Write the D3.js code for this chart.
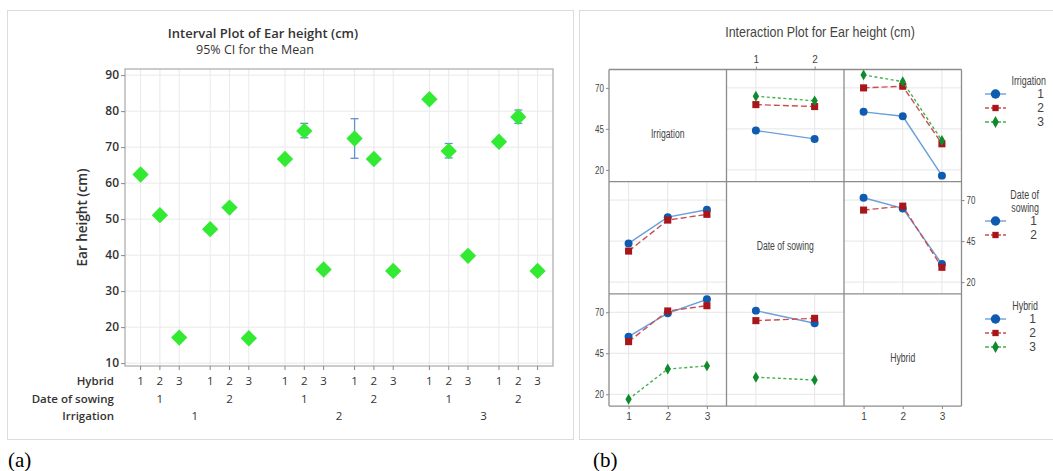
<!DOCTYPE html>
<meta charset="utf-8">
<style>
body { margin: 0; background: #fff; }
svg { display: block; }
.lab { font-family: "Open Sans", "Noto Sans", sans-serif; fill: #333; }
.narrow { font-family: "Liberation Sans", "Roboto", sans-serif; fill: #444; }
</style>
<body>
<script src="https://d3js.org/d3.v7.min.js"></script>
<script>

var width = 1053, height = 471;

// ---- interval plot data (order: irrigation > date of sowing > hybrid)
var irrigation = ["1", "2", "3"];
var sowing = ["1", "2"];
var hybrid = ["1", "2", "3"];
var meanHeight = [62.4, 51.1, 17.1, 47.2, 53.2, 16.9,
                  66.7, 74.5, 36.0, 72.4, 66.7, 35.6,
                  83.3, 68.9, 39.8, 71.5, 78.4, 35.6];
var ciLow  = [61.8, 50.5, 16.5, 46.6, 52.5, 16.3,
              66.0, 72.6, 35.4, 66.9, 66.0, 35.0,
              82.7, 67.0, 39.2, 70.9, 76.6, 35.0];
var ciHigh = [63.0, 51.7, 17.7, 47.8, 53.9, 17.5,
              67.4, 76.6, 36.6, 77.9, 67.4, 36.2,
              83.9, 71.0, 40.4, 72.1, 80.3, 36.2];
var yTicks = [10, 20, 30, 40, 50, 60, 70, 80, 90];

// ---- interaction plot data: [trace level][x level]
var factors = ["Irrigation", "Date of sowing", "Hybrid"];
var levels = [irrigation, sowing, hybrid];
var irrBySowing = [[44.0, 38.9], [59.8, 58.6], [64.9, 62.1]];
var irrByHybrid = [[55.4, 52.7, 16.5], [70.0, 71.0, 35.9], [77.9, 73.8, 37.9]];
var sowByIrr = [[43.6, 59.6, 64.1], [38.9, 57.8, 61.3]];
var sowByHybrid = [[71.4, 64.9, 31.0], [63.9, 66.3, 29.0]];
var hybByIrr = [[55.1, 69.4, 77.9], [52.1, 70.8, 74.0], [17.0, 35.4, 37.3]];
var hybBySowing = [[71.0, 63.3], [64.9, 66.3], [30.4, 28.7]];
var cellData = [[null, irrBySowing, irrByHybrid],
                [sowByIrr, null, sowByHybrid],
                [hybByIrr, hybBySowing, null]];
var intTicks = [20, 45, 70];

var svg = d3.select("body").append("svg")
    .attr("width", width)
    .attr("height", height);

// squeeze text horizontally, the interaction plot uses a narrow face
function condense(sel, f) {
  sel.each(function() {
    var w = this.getComputedTextLength();
    d3.select(this).attr("textLength", w * f).attr("lengthAdjust", "spacingAndGlyphs");
  });
}

// panel frames
svg.append("rect").attr("x", 7.5).attr("y", 10.5).attr("width", 566).attr("height", 429)
  .attr("fill", "none").attr("stroke", "#dcdcdc");
svg.append("rect").attr("x", 579.5).attr("y", 10.5).attr("width", 480).attr("height", 429)
  .attr("fill", "none").attr("stroke", "#dcdcdc");

// =================== (a) interval plot
var px0 = 125, px1 = 553, py0 = 69, py1 = 366;

var y = d3.scaleLinear().domain([9.2, 91.7]).range([py1, py0]);
var xIrr = d3.scaleBand().domain(irrigation).range([122.5, 555.7]);
var xSow = d3.scaleBand().domain(sowing).range([0, xIrr.bandwidth()])
    .paddingInner(0.445).paddingOuter(0.26);
var xHyb = d3.scalePoint().domain(hybrid).range([0, xSow.bandwidth()]);

var pts = [];
irrigation.forEach(function(ir) {
  sowing.forEach(function(s) {
    hybrid.forEach(function(h) {
      var i = pts.length;
      pts.push({ir: ir, s: s, h: h, m: meanHeight[i], lo: ciLow[i], hi: ciHigh[i],
        x: xIrr(ir) + xSow(s) + xHyb(h)});
    });
  });
});

var ga = svg.append("g");

ga.selectAll("line.hg").data(yTicks).enter().append("line")
  .attr("x1", px0).attr("x2", px1)
  .attr("y1", function(d) { return y(d); }).attr("y2", function(d) { return y(d); })
  .attr("stroke", "#e9e9e9");
ga.selectAll("line.vg").data(pts).enter().append("line")
  .attr("x1", function(d) { return d.x; }).attr("x2", function(d) { return d.x; })
  .attr("y1", py0).attr("y2", py1)
  .attr("stroke", "#e9e9e9");

ga.append("rect").attr("x", px0).attr("y", py0).attr("width", px1 - px0).attr("height", py1 - py0)
  .attr("fill", "none").attr("stroke", "#a9a9a9").attr("stroke-width", 1.2);

var yAxis = ga.append("g").attr("transform", "translate(" + px0 + ",0)")
  .call(d3.axisLeft(y).tickValues(yTicks).tickSize(4).tickPadding(2));
yAxis.select(".domain").remove();
yAxis.selectAll("line").attr("stroke", "#888");
yAxis.selectAll("text").attr("class", "lab").style("font-size", "12px")
  .style("font-weight", "600").attr("fill", "#333");

ga.selectAll("line.xt").data(pts).enter().append("line")
  .attr("x1", function(d) { return d.x; }).attr("x2", function(d) { return d.x; })
  .attr("y1", py1).attr("y2", py1 + 4).attr("stroke", "#888");

ga.append("text").attr("class", "lab")
  .attr("transform", "translate(87," + ((py0 + py1) / 2) + ") rotate(-90)")
  .attr("text-anchor", "middle").style("font-size", "13.5px").style("font-weight", "600")
  .attr("fill", "#444").text("Ear height (cm)");

// error bars
var eb = ga.selectAll("g.eb").data(pts).enter().append("g").attr("stroke", "#5b93d3").attr("stroke-width", 1.3);
eb.append("line").attr("x1", function(d) { return d.x; }).attr("x2", function(d) { return d.x; })
  .attr("y1", function(d) { return y(d.lo); }).attr("y2", function(d) { return y(d.hi); });
eb.append("line").attr("x1", function(d) { return d.x - 4; }).attr("x2", function(d) { return d.x + 4; })
  .attr("y1", function(d) { return y(d.lo); }).attr("y2", function(d) { return y(d.lo); });
eb.append("line").attr("x1", function(d) { return d.x - 4; }).attr("x2", function(d) { return d.x + 4; })
  .attr("y1", function(d) { return y(d.hi); }).attr("y2", function(d) { return y(d.hi); });

ga.selectAll("path.mean").data(pts).enter().append("path")
  .attr("d", d3.symbol().type(d3.symbolDiamond2).size(170))
  .attr("transform", function(d) { return "translate(" + d.x + "," + y(d.m) + ")"; })
  .attr("fill", "#33ea33");

// category rows under the axis
var rowY = [385, 403, 420];
ga.selectAll("text.hyb").data(pts).enter().append("text").attr("class", "lab")
  .attr("x", function(d) { return d.x; }).attr("y", rowY[0]).attr("text-anchor", "middle")
  .style("font-size", "11.5px").text(function(d) { return d.h; });
var sowCells = [];
irrigation.forEach(function(ir) { sowing.forEach(function(s) { sowCells.push({ir: ir, s: s}); }); });
ga.selectAll("text.sow").data(sowCells).enter().append("text").attr("class", "lab")
  .attr("x", function(d) { return xIrr(d.ir) + xSow(d.s) + xSow.bandwidth() / 2; })
  .attr("y", rowY[1]).attr("text-anchor", "middle").style("font-size", "11.5px")
  .text(function(d) { return d.s; });
ga.selectAll("text.irr").data(irrigation).enter().append("text").attr("class", "lab")
  .attr("x", function(d) { return xIrr(d) + xIrr.bandwidth() / 2; })
  .attr("y", rowY[2]).attr("text-anchor", "middle").style("font-size", "11.5px")
  .text(function(d) { return d; });
ga.selectAll("text.rowname").data(["Hybrid", "Date of sowing", "Irrigation"]).enter().append("text")
  .attr("class", "lab").attr("x", 114).attr("y", function(d, i) { return rowY[i]; })
  .attr("text-anchor", "end").style("font-size", "11.5px").style("font-weight", "600")
  .text(function(d) { return d; });

ga.append("text").attr("class", "lab").attr("x", 263).attr("y", 38).attr("text-anchor", "middle")
  .style("font-size", "13px").style("font-weight", "600").attr("fill", "#3b3b3b")
  .text("Interval Plot of Ear height (cm)");
ga.append("text").attr("class", "lab").attr("x", 255).attr("y", 54).attr("text-anchor", "middle")
  .style("font-size", "12.5px").attr("fill", "#555").text("95% CI for the Mean");

// =================== (b) interaction plot matrix
var mx0 = 609, my0 = 69.5, cw = 117.5, ch = 112.2;
var yi = d3.scaleLinear().domain([12.8, 81.2]).range([ch, 0]);
var xScales = levels.map(function(lv) {
  return d3.scalePoint().domain(lv).range([0, cw]).padding(0.5);
});

var lineCol = ["#6a9fdc", "#cc4f4f", "#44b04c"];
var markCol = ["#0f5bb0", "#a8161b", "#0f8a2c"];
var dashes = [null, "6,3", "3,2.5"];
var symbols = [d3.symbolCircle, d3.symbolSquare, d3.symbolDiamond];
var symSize = [50, 50, 34];

var gb = svg.append("g");

for (var r = 0; r < 3; r++) {
  for (var c = 0; c < 3; c++) {
    var cell = gb.append("g").attr("transform", "translate(" + (mx0 + c * cw) + "," + (my0 + r * ch) + ")");
    if (r === c) {
      cell.append("text").attr("class", "narrow diag").attr("x", cw / 2).attr("y", ch / 2 + 12)
        .attr("text-anchor", "middle").style("font-size", "12px").text(factors[r]);
      continue;
    }
    var xs = xScales[c];
    cell.selectAll("line.hg").data(intTicks).enter().append("line")
      .attr("x1", 0).attr("x2", cw).attr("y1", function(d) { return yi(d); }).attr("y2", function(d) { return yi(d); })
      .attr("stroke", "#e6e6e6");
    cell.selectAll("line.vg").data(levels[c]).enter().append("line")
      .attr("x1", function(d) { return xs(d); }).attr("x2", function(d) { return xs(d); })
      .attr("y1", 0).attr("y2", ch).attr("stroke", "#e6e6e6");
    var series = cellData[r][c];
    series.forEach(function(vals, k) {
      var ptsK = vals.map(function(v, j) { return [xs(levels[c][j]), yi(v)]; });
      cell.append("path").attr("d", d3.line()(ptsK)).attr("fill", "none")
        .attr("stroke", lineCol[k]).attr("stroke-width", 1.4)
        .attr("stroke-dasharray", dashes[k]);
      cell.selectAll("path.m" + k).data(ptsK).enter().append("path")
        .attr("d", d3.symbol().type(symbols[k]).size(symSize[k]))
        .attr("transform", function(p) { return "translate(" + p[0] + "," + p[1] + ")"; })
        .attr("fill", markCol[k]);
    });
  }
}
condense(gb.selectAll("text.diag"), 0.72);

// cell frame
for (var i = 0; i <= 3; i++) {
  gb.append("line").attr("x1", mx0 + i * cw).attr("x2", mx0 + i * cw).attr("y1", my0).attr("y2", my0 + 3 * ch)
    .attr("stroke", "#8c8c8c").attr("stroke-width", 1.3);
  gb.append("line").attr("y1", my0 + i * ch).attr("y2", my0 + i * ch).attr("x1", mx0).attr("x2", mx0 + 3 * cw)
    .attr("stroke", "#8c8c8c").attr("stroke-width", 1.3);
}

// y axes: row 0 left, row 1 right, row 2 left
[0, 1, 2].forEach(function(r) {
  var left = r !== 1;
  var ax = left ? d3.axisLeft(yi) : d3.axisRight(yi);
  var g = gb.append("g").attr("transform", "translate(" + (left ? mx0 : mx0 + 3 * cw) + "," + (my0 + r * ch) + ")")
    .call(ax.tickValues(intTicks).tickSize(3).tickPadding(2));
  g.select(".domain").remove();
  g.selectAll("line").attr("stroke", "#888");
  g.selectAll("text").attr("class", "narrow").style("font-size", "10px");
  condense(g.selectAll("text"), 0.8);
});
// x axes: col 0 bottom, col 1 top, col 2 bottom
[0, 1, 2].forEach(function(c) {
  var top = c === 1;
  var ax = top ? d3.axisTop(xScales[c]) : d3.axisBottom(xScales[c]);
  var g = gb.append("g").attr("transform", "translate(" + (mx0 + c * cw) + "," + (top ? my0 : my0 + 3 * ch) + ")")
    .call(ax.tickSize(3).tickPadding(4));
  g.select(".domain").remove();
  g.selectAll("line").attr("stroke", "#888");
  g.selectAll("text").attr("class", "narrow").style("font-size", "10px");
});

var ttl = gb.append("text").attr("class", "narrow").attr("x", 820).attr("y", 37).attr("text-anchor", "middle")
  .style("font-size", "15px").attr("fill", "#333").text("Interaction Plot for Ear height (cm)");
condense(ttl, 0.83);

// legends
var legends = [
  {title: ["Irrigation"], labels: irrigation, y: 81, right: 1046},
  {title: ["Date of", "sowing"], labels: sowing, y: 195, right: 1039},
  {title: ["Hybrid"], labels: hybrid, y: 306, right: 1038}
];
legends.forEach(function(lg) {
  var g = gb.append("g");
  lg.title.forEach(function(t, i) {
    g.append("text").attr("class", "narrow lgt").attr("x", lg.right).attr("y", lg.y + 4 + i * 13)
      .attr("text-anchor", "end").style("font-size", "12px").text(t);
  });
  var y0 = lg.y + 13 * lg.title.length;
  lg.labels.forEach(function(l, k) {
    var yy = y0 + k * 14;
    g.append("line").attr("x1", 985).attr("x2", 1006).attr("y1", yy).attr("y2", yy)
      .attr("stroke", lineCol[k]).attr("stroke-width", 1.4).attr("stroke-dasharray", dashes[k] ? "4,2" : null);
    g.append("path").attr("d", d3.symbol().type(symbols[k]).size(k === 0 ? 70 : 40)())
      .attr("transform", "translate(995.5," + yy + ")").attr("fill", markCol[k]);
    g.append("text").attr("class", "narrow").attr("x", lg.right - 2).attr("y", yy + 4)
      .attr("text-anchor", "end").style("font-size", "12px").text(l);
  });
});
condense(gb.selectAll("text.lgt"), 0.74);

// panel letters
svg.append("text").attr("x", 8).attr("y", 467).style("font-family", "'Liberation Serif', serif")
  .style("font-size", "21px").text("(a)");
svg.append("text").attr("x", 593).attr("y", 467).style("font-family", "'Liberation Serif', serif")
  .style("font-size", "21px").text("(b)");

</script>
